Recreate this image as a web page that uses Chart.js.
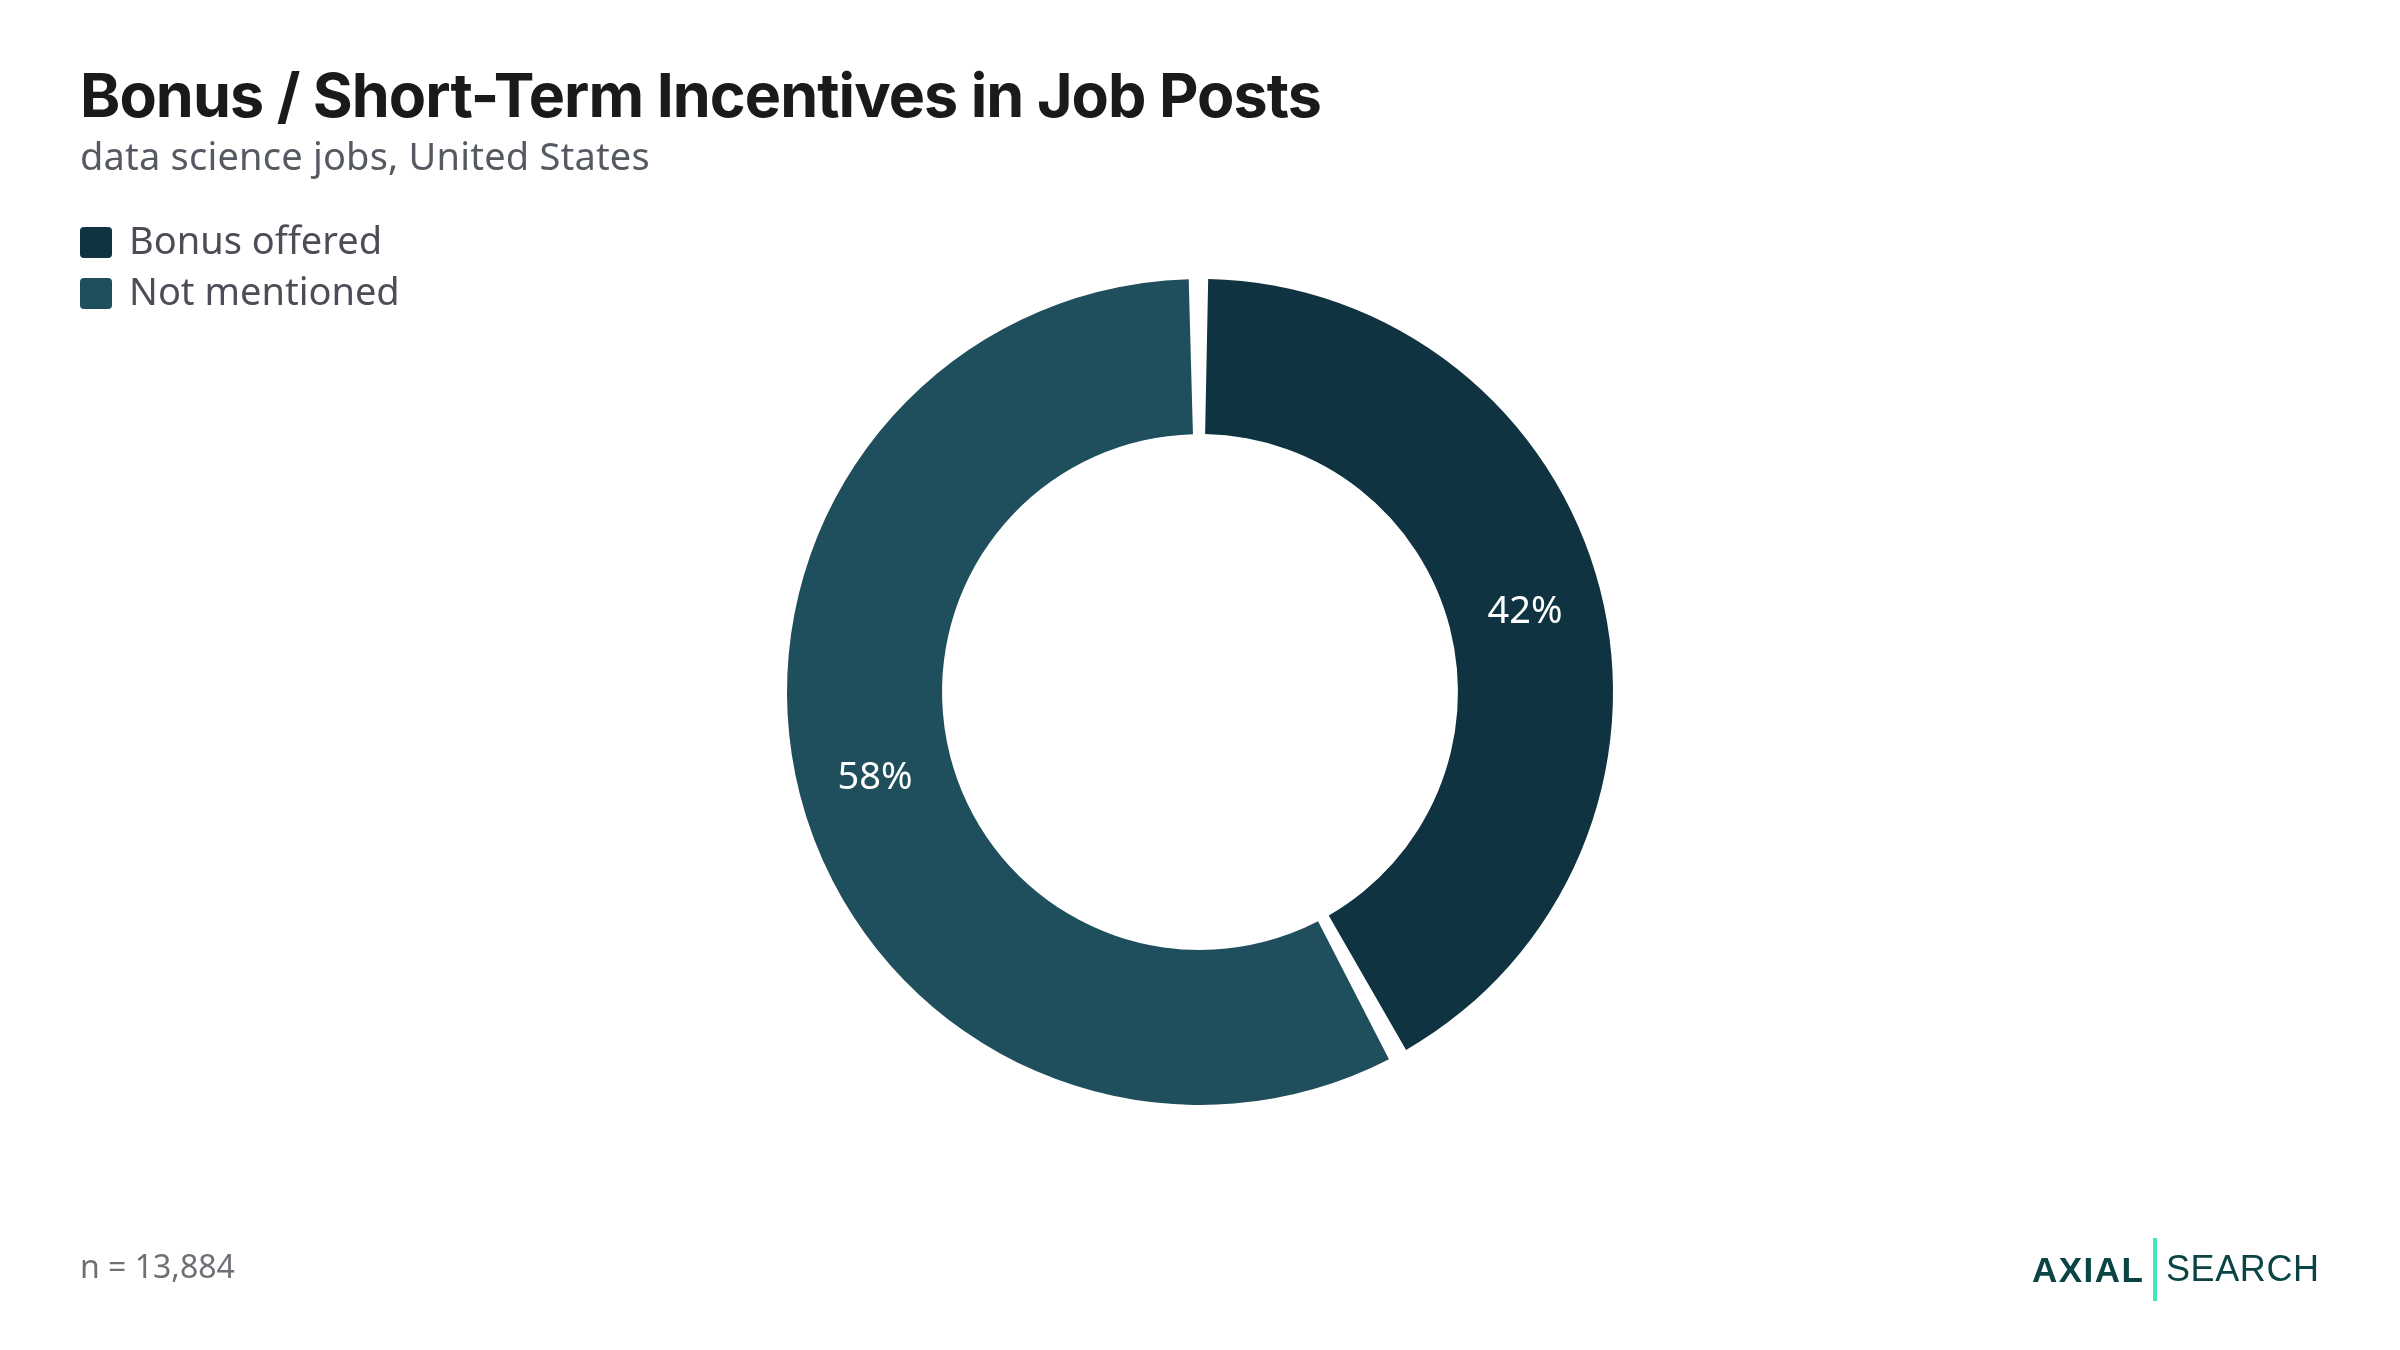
<!DOCTYPE html>
<html>
<head>
<meta charset="utf-8">
<script src="https://cdn.jsdelivr.net/npm/chart.js@4.4.1/dist/chart.umd.min.js"></script>
<style>
  html, body { margin: 0; padding: 0; background: #ffffff; }
  body { width: 2400px; height: 1350px; position: relative; overflow: hidden; }
  #c { position: absolute; left: 0; top: 0; }
  .t { position: absolute; white-space: nowrap; line-height: 1; }
  #title { left: 80px; top: 65px; font-family: Inter, sans-serif; font-weight: 700; font-size: 61px; color: #1a1a1a; letter-spacing: -0.95px; }
  #subtitle { left: 80px; top: 136px; font-family: "Noto Sans", sans-serif; font-size: 38px; color: #555961; letter-spacing: 0.2px; }
  #legend { position: absolute; left: 80px; top: 220px; }
  .li { position: relative; height: 51px; }
  .sw { position: absolute; left: 0; top: 7px; width: 32px; height: 31px; border-radius: 4px; }
  .lt { position: absolute; left: 49px; top: 0; font-family: "Noto Sans", sans-serif; font-size: 38px; line-height: 1; color: #4b4e56; white-space: nowrap; }
  #note { left: 80px; top: 1250px; font-family: "Noto Sans", sans-serif; font-size: 32px; color: #6e7076; }
  #axial { left: 2032px; top: 1252px; font-family: "Liberation Sans", Arial, sans-serif; font-weight: 700; font-size: 35px; color: #0b4444; letter-spacing: 1.5px; }
  #bar { position: absolute; left: 2153px; top: 1238px; width: 4px; height: 63px; background: #43e6b8; }
  #search { left: 2166px; top: 1251px; font-family: "Liberation Sans", Arial, sans-serif; font-size: 36px; color: #0b4444; letter-spacing: 0.6px; }
</style>
</head>
<body>
<canvas id="c" width="2400" height="1350"></canvas>
<div class="t" id="title">Bonus / Short-Term Incentives in Job Posts</div>
<div class="t" id="subtitle">data science jobs, United States</div>
<div id="legend"></div>
<div class="t" id="note">n = 13,884</div>
<div class="t" id="axial">AXIAL</div>
<div id="bar"></div>
<div class="t" id="search">SEARCH</div>
<script>
const categories = ["Bonus offered", "Not mentioned"];
const shares = [42, 58];
const valueLabels = ["42%", "58%"];
const colors = ["#0f3340", "#1f4e5c"];

// HTML legend from the data arrays
const legend = document.getElementById('legend');
categories.forEach((name, i) => {
  const row = document.createElement('div');
  row.className = 'li';
  const sw = document.createElement('div');
  sw.className = 'sw';
  sw.style.background = colors[i];
  const lt = document.createElement('div');
  lt.className = 'lt';
  lt.textContent = name;
  row.appendChild(sw);
  row.appendChild(lt);
  legend.appendChild(row);
});

const GAP = 10;

const sliceLabels = {
  id: 'sliceLabels',
  afterDatasetsDraw(chart) {
    const ctx = chart.ctx;
    const meta = chart.getDatasetMeta(0);
    ctx.save();
    ctx.fillStyle = '#ffffff';
    ctx.font = '38px "Noto Sans", sans-serif';
    ctx.textAlign = 'center';
    ctx.textBaseline = 'alphabetic';
    meta.data.forEach((arc, i) => {
      const p = arc.getProps(['x', 'y', 'startAngle', 'endAngle', 'innerRadius', 'outerRadius']);
      const mid = (p.startAngle + p.endAngle) / 2;
      const r = (p.innerRadius + p.outerRadius) / 2 + GAP / 2;
      ctx.fillText(valueLabels[i], p.x + Math.cos(mid) * r, p.y + Math.sin(mid) * r + 14);
    });
    ctx.restore();
  }
};

new Chart(document.getElementById('c'), {
  type: 'doughnut',
  data: {
    labels: categories,
    datasets: [{
      data: shares,
      backgroundColor: colors,
      borderWidth: 0,
      spacing: GAP
    }]
  },
  options: {
    responsive: false,
    animation: false,
    devicePixelRatio: 1,
    radius: 408,
    cutout: '62%',
    layout: { padding: { top: 34, bottom: 0, left: 0, right: 0 } },
    plugins: {
      legend: { display: false },
      tooltip: { enabled: false },
      title: { display: false }
    }
  },
  plugins: [sliceLabels]
});
</script>
</body>
</html>
